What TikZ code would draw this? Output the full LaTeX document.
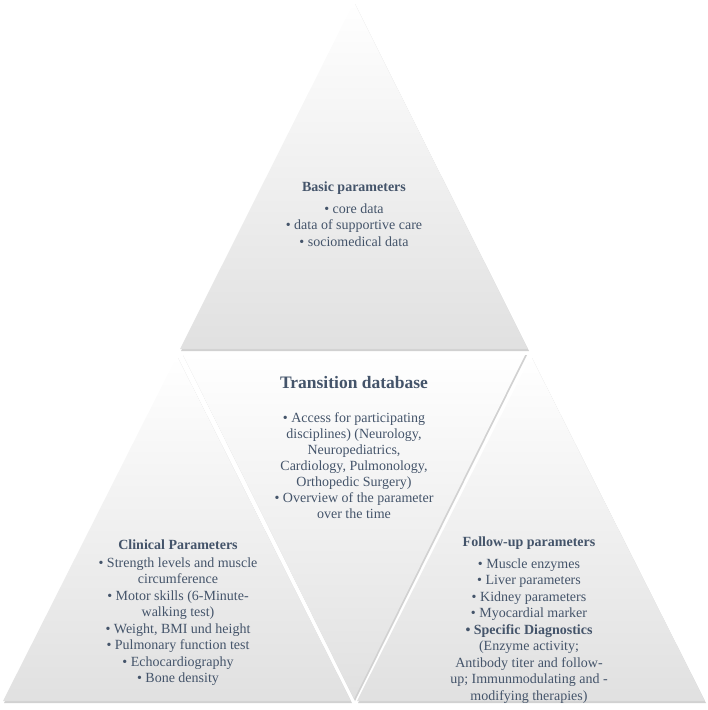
\documentclass[tikz,border=0pt]{standalone}
\usepackage{fontspec}
\setmainfont{Liberation Serif}
\usetikzlibrary{positioning,shadows}
\definecolor{slate}{RGB}{68,84,106}
\begin{document}
\begin{tikzpicture}[x=1pt, y=-1pt, font=\fontsize{14}{16.5}\selectfont, text=slate]
    \tikzset{tri/.style={top color=white, bottom color=black!12,
        drop shadow={shadow xshift=1pt, shadow yshift=-2pt, opacity=0.3, fill=black!60}},
      head/.style={font=\fontsize{14}{16}\selectfont\bfseries, inner sep=0pt},
      items/.style={align=center, inner sep=0pt}}
    \useasboundingbox (0,0) rectangle (708,710);
    % top : basic parameters
    \shade[tri] (354,2) -- (528,349) -- (180,349) -- cycle;
    \node[head] (basic) at (354,188) {Basic parameters};
    \node[items, below=9pt of basic] (basiclist) {%
      • core data\\ • data of supportive care\\ • sociomedical data};
    % middle, upside down : transition database
    \shade[tri] (182,353) -- (526,353) -- (354,699) -- cycle;
    \node[head, font=\fontsize{17.5}{19}\selectfont\bfseries] (trans) at (354,383) {Transition database};
    \node[items, below=23pt of trans, font=\fontsize{14}{16}\selectfont] (translist) {%
      • Access for participating\\ disciplines) (Neurology,\\ Neuropediatrics,\\
      Cardiology, Pulmonology,\\ Orthopedic Surgery)\\ • Overview of the parameter\\ over the time};
    % bottom left : clinical parameters
    \shade[tri] (177,356) -- (351,701) -- (3,701) -- cycle;
    \node[head] (clin) at (178,545) {Clinical Parameters};
    \node[items, below=7pt of clin] (clinlist) {%
      • Strength levels and muscle\\ circumference\\ • Motor skills (6-Minute-\\ walking test)\\
      • Weight, BMI und height\\ • Pulmonary function test\\ • Echocardiography\\ • Bone density};
    % bottom right : follow-up parameters
    \shade[tri] (531,356) -- (705,701) -- (357,701) -- cycle;
    \node[head] (follow) at (529,543) {Follow-up parameters};
    \node[items, below=9pt of follow] (followlist) {%
      • Muscle enzymes\\ • Liver parameters\\ • Kidney parameters\\ • Myocardial marker\\
      \textbf{• Specific Diagnostics}\\ (Enzyme activity;\\ Antibody titer and follow-\\
      up; Immunmodulating and -\\ modifying therapies)};
  \end{tikzpicture}
\end{document}
